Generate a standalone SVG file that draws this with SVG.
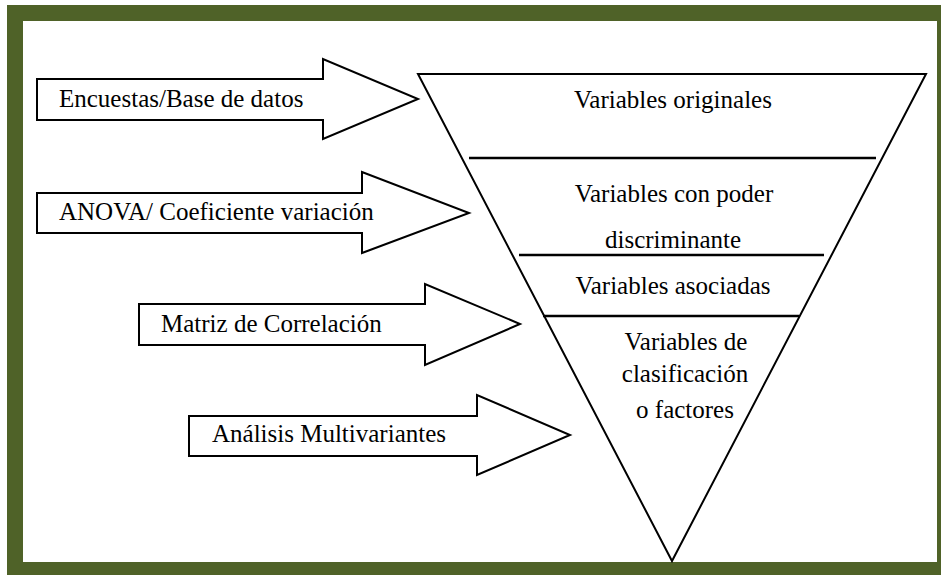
<svg xmlns="http://www.w3.org/2000/svg" width="941" height="575" viewBox="0 0 941 575">
<style>
.shape{fill:#fff;stroke:#000;stroke-width:2;stroke-linejoin:miter}
.sep{stroke:#000;stroke-width:2.5}
text{font-size:25px;fill:#000}
.c{text-anchor:middle}
</style>
<rect x="0" y="0" width="941" height="575" fill="#fff"/>
<rect x="7" y="5" width="934" height="570" fill="#4F6228"/>
<rect x="23" y="21" width="914" height="541" fill="#fff"/>
<g font-family="Liberation Serif, Tinos, DejaVu Serif, serif">
<g id="funnel">
<polygon class="shape" points="418,74 926,74 672,561"/>
<line class="sep" x1="469" y1="158" x2="876" y2="158"/>
<line class="sep" x1="519" y1="255" x2="824" y2="255"/>
<line class="sep" x1="543" y1="316" x2="799" y2="316"/>
<text class="c" x="673" y="108">Variables originales</text>
<text class="c" x="674" y="202">Variables con poder</text>
<text class="c" x="673" y="248">discriminante</text>
<text class="c" x="673" y="294">Variables asociadas</text>
<text class="c" x="686" y="350">Variables de</text>
<text class="c" x="685" y="382">clasificación</text>
<text class="c" x="685" y="418">o factores</text>
</g>
<g id="connectors">
<g id="arrow1">
<polygon class="shape" points="37,79 323,79 323,59 418,99 323,139 323,120 37,120"/>
<text x="59" y="107">Encuestas/Base de datos</text>
</g>
<g id="arrow2">
<polygon class="shape" points="37,193 362,193 362,172 469,213 362,253 362,233 37,233"/>
<text x="59" y="220">ANOVA/ Coeficiente variación</text>
</g>
<g id="arrow3">
<polygon class="shape" points="139,304 425,304 425,284 520,324 425,365 425,345 139,345"/>
<text x="161" y="332">Matriz de Correlación</text>
</g>
<g id="arrow4">
<polygon class="shape" points="189,416 477,416 477,395 570,435 477,475 477,456 189,456"/>
<text x="212" y="442">Análisis Multivariantes</text>
</g>
</g>
</g>
</svg>
